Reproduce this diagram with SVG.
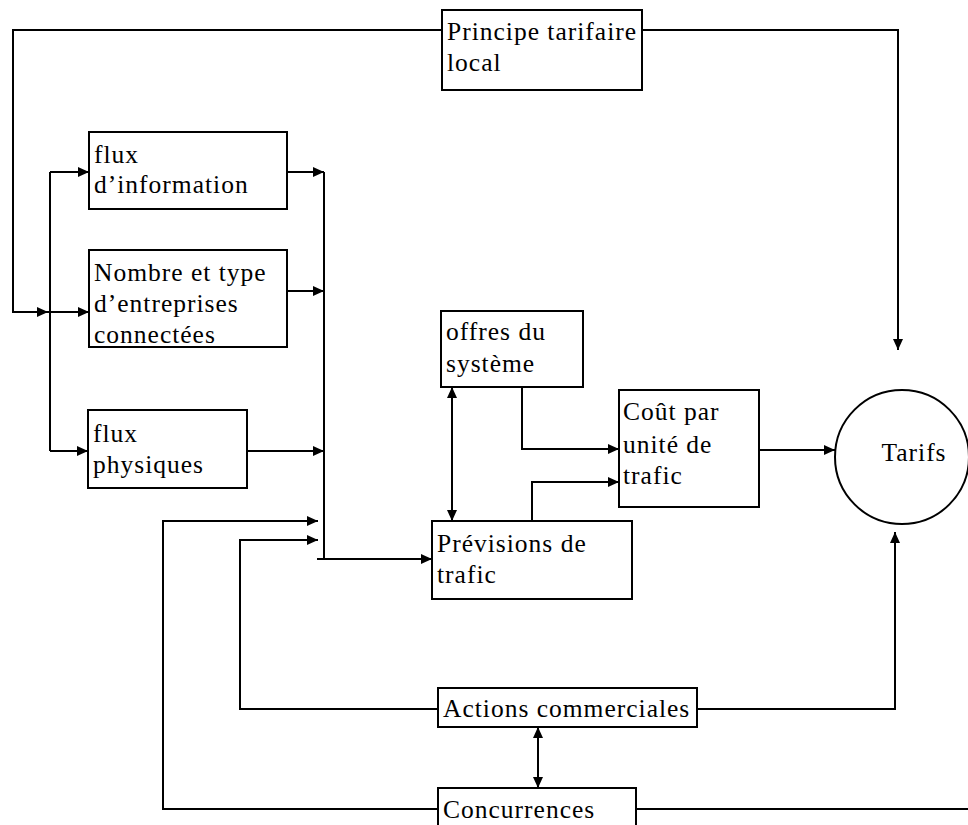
<svg xmlns="http://www.w3.org/2000/svg" width="968" height="825" viewBox="0 0 968 825">
<style>
.box{fill:#fff;stroke:#000;stroke-width:2}
.ln{fill:none;stroke:#000;stroke-width:2}
.ar{marker-end:url(#ah)}
.dbl{marker-end:url(#ah);marker-start:url(#ahs)}
text{font-family:"Liberation Serif","Times New Roman",serif;font-size:25.5px;letter-spacing:1px;fill:#000}
</style>
<defs>
<marker id="ah" markerUnits="userSpaceOnUse" markerWidth="11" markerHeight="10" refX="11" refY="5" orient="auto"><path d="M0,0 L11,5 L0,10 z" fill="#000"/></marker>
<marker id="ahs" markerUnits="userSpaceOnUse" markerWidth="11" markerHeight="10" refX="11" refY="5" orient="auto-start-reverse"><path d="M0,0 L11,5 L0,10 z" fill="#000"/></marker>
</defs>
<g id="connectors">
<polyline class="ln" points="442,30 13,30 13,312 48,312"/>
<line class="ln ar" x1="13" y1="312" x2="48" y2="312"/>
<line class="ln ar" x1="48" y1="312" x2="89" y2="312"/>
<polyline class="ln" points="50,172 50,451"/>
<line class="ln ar" x1="50" y1="172" x2="89" y2="172"/>
<line class="ln ar" x1="50" y1="451" x2="88" y2="451"/>
<polyline class="ln ar" points="642,30 898,30 898,350"/>
<line class="ln ar" x1="287" y1="172" x2="324" y2="172"/>
<line class="ln ar" x1="287" y1="291" x2="324" y2="291"/>
<line class="ln ar" x1="247" y1="451" x2="324" y2="451"/>
<line class="ln" x1="324" y1="172" x2="324" y2="559"/>
<polyline class="ln ar" points="317,559 432,559"/>
<polyline class="ln ar" points="438,809 163,809 163,521 318,521"/>
<polyline class="ln ar" points="438,709 240,709 240,540 318,540"/>
<line class="ln dbl" x1="452" y1="387" x2="452" y2="521"/>
<polyline class="ln ar" points="522,387 522,449 619,449"/>
<polyline class="ln ar" points="532,521 532,482 619,482"/>
<line class="ln ar" x1="759" y1="450" x2="835" y2="450"/>
<polyline class="ln ar" points="697,709 895,709 895,532"/>
<line class="ln dbl" x1="538" y1="727" x2="538" y2="788"/>
<line class="ln" x1="636" y1="809" x2="968" y2="809"/>
</g>
<g id="principe">
<rect class="box" x="442" y="10" width="200" height="80"/>
<text x="447" y="40">Principe tarifaire</text>
<text x="447" y="71">local</text>
</g>
<g id="flux-information">
<rect class="box" x="89" y="132" width="198" height="77"/>
<text x="94" y="163">flux</text>
<text x="94" y="193">d’information</text>
</g>
<g id="nombre">
<rect class="box" x="89" y="250" width="198" height="97"/>
<text x="94" y="281">Nombre et type</text>
<text x="94" y="312">d’entreprises</text>
<text x="94" y="343">connectées</text>
</g>
<g id="flux-physiques">
<rect class="box" x="88" y="410" width="159" height="78"/>
<text x="93" y="442">flux</text>
<text x="93" y="473">physiques</text>
</g>
<g id="offres">
<rect class="box" x="441" y="311" width="142" height="76"/>
<text x="446" y="340">offres du</text>
<text x="446" y="372">système</text>
</g>
<g id="cout">
<rect class="box" x="619" y="390" width="140" height="117"/>
<text x="623" y="420">Coût par</text>
<text x="623" y="453">unité de</text>
<text x="623" y="484">trafic</text>
</g>
<g id="previsions">
<rect class="box" x="432" y="521" width="200" height="78"/>
<text x="437" y="552">Prévisions de</text>
<text x="437" y="583">trafic</text>
</g>
<g id="tarifs">
<circle class="box" cx="902" cy="457" r="67"/>
<text x="914" y="461" text-anchor="middle">Tarifs</text>
</g>
<g id="actions">
<rect class="box" x="438" y="688" width="259" height="39"/>
<text x="443" y="717">Actions commerciales</text>
</g>
<g id="concurrences">
<rect class="box" x="438" y="788" width="198" height="45"/>
<text x="443" y="818">Concurrences</text>
</g>
</svg>
